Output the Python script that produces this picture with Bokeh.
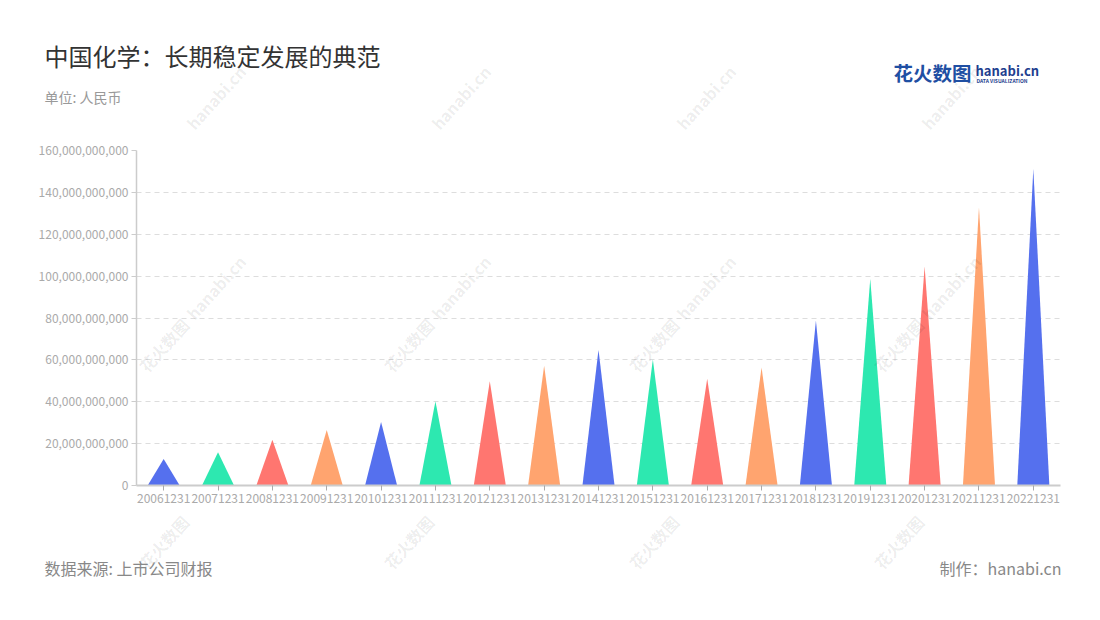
import math
from bokeh.plotting import figure
from bokeh.layouts import column
from bokeh.models import (Range1d, FixedTicker, NumeralTickFormatter, Label,
                          ColumnDataSource)
from bokeh.embed import file_html
from bokeh.resources import INLINE

# ---- data ----
periods = ["20061231", "20071231", "20081231", "20091231", "20101231", "20111231",
           "20121231", "20131231", "20141231", "20151231", "20161231", "20171231",
           "20181231", "20191231", "20201231", "20211231", "20221231"]
revenue = [12.7e9, 15.9e9, 21.8e9, 26.5e9, 30.3e9, 40.2e9,
           49.8e9, 57.2e9, 64.8e9, 60.2e9, 51.0e9, 56.3e9,
           78.8e9, 98.7e9, 104.6e9, 132.9e9, 151.2e9]
y_ticks = [0, 20e9, 40e9, 60e9, 80e9, 100e9, 120e9, 140e9, 160e9]

title_text = "中国化学：长期稳定发展的典范"
subtitle_text = "单位: 人民币"
source_text = "数据来源: 上市公司财报"
credit_text = "制作：hanabi.cn"
wm_parts = [("花火数图", 64, -40), ("hanabi.cn", 72, 38)]  # text, approx length, offset along axis

palette = ["#5570ee", "#2de8b0", "#ff7670", "#ffa46f"]
FONT = "Noto Sans CJK SC"
W = 1084
HEAD_H, MAIN_H, FOOT_H = 142, 366, 92

n = len(periods)
half_w = 0.295
xs, ys, cols = [], [], []
for i, v in enumerate(revenue):
    c = i + 0.5
    xs.append([c - half_w, c, c + half_w])
    ys.append([0, v, 0])
    cols.append(palette[i % len(palette)])
src = ColumnDataSource(dict(xs=xs, ys=ys, color=cols))


def blank(h):
    f = figure(width=W, height=h, output_backend="svg", toolbar_location=None,
               x_axis_type=None, y_axis_type=None,
               x_range=Range1d(0, W), y_range=Range1d(0, h),
               min_border=0, min_border_left=0, min_border_right=0,
               min_border_top=0, min_border_bottom=0, frame_align=False)
    f.outline_line_color = None
    f.grid.grid_line_color = None
    return f


ANG = math.radians(48)
CA, SA = math.cos(ANG), math.sin(ANG)
WM_CENTERS = [(190 + 245 * i, cy) for cy in (125, 315, 512) for i in range(4)]


def add_watermarks(f, fx0, fy0, fx1, fy1):
    """Place watermark pieces (page coords) that fit fully in frame [fx0,fx1]x[fy0,fy1]."""
    for (cx, cy) in WM_CENTERS:
        for text, L, off in wm_parts:
            px = cx + off * CA
            py = cy - off * SA
            hx = (L * CA + 12 * SA) / 2
            hy = (L * SA + 12 * CA) / 2
            if px - hx < fx0 or px + hx > fx1 or py - hy < fy0 or py + hy > fy1:
                continue
            f.add_layout(Label(x=px - fx0, y=fy1 - py, x_units="screen", y_units="screen",
                               text=text, text_font=FONT, text_font_style="bold",
                               text_font_size="16px", text_color="#000000", text_alpha=0.08,
                               angle=ANG, text_align="center", text_baseline="middle"))


def lab(f, text, X, Y, top, size, color, align="left", style="normal"):
    h = f.height
    f.add_layout(Label(x=X, y=h - (Y - top), x_units="screen", y_units="screen",
                       text=text, text_font=FONT, text_font_size=size,
                       text_color=color, text_align=align, text_baseline="middle",
                       text_font_style=style))


# ---- header ----
head = blank(HEAD_H)
add_watermarks(head, 0, 0, W, HEAD_H)
lab(head, title_text, 44, 55, 0, "24px", "#333333")
lab(head, subtitle_text, 44, 96, 0, "14px", "#999999")
lab(head, "花火数图", 893, 72, 0, "19.5px", "#1f4fa3", style="bold")
lab(head, "hanabi.cn", 975, 70, 0, "13px", "#1f3f8f", style="bold")
lab(head, "DATA VISUALIZATION", 976, 80, 0, "5px", "#1f3f8f", style="bold")

# ---- main chart ----
p = figure(width=W, height=MAIN_H, output_backend="svg", toolbar_location=None,
           x_range=Range1d(0, n), y_range=Range1d(0, 160e9),
           min_border_left=136, min_border_right=W - 1060, min_border_top=150 - HEAD_H,
           min_border_bottom=HEAD_H + MAIN_H - 485, frame_align=False)
p.outline_line_color = None
p.background_fill_color = "white"
p.border_fill_color = "white"

p.patches("xs", "ys", source=src, fill_color="color", line_color=None)

p.xaxis.ticker = FixedTicker(ticks=[i + 0.5 for i in range(n)])
p.xaxis.major_label_overrides = {i + 0.5: lab_ for i, lab_ in enumerate(periods)}
p.xaxis.axis_line_color = "#cccccc"
p.xaxis.axis_line_width = 2
p.xaxis.major_tick_line_color = "#aaaaaa"
p.xaxis.major_tick_out = 5
p.xaxis.major_tick_in = 0
p.xaxis.minor_tick_line_color = None
p.xaxis.major_label_text_font = FONT
p.xaxis.major_label_text_font_size = "12px"
p.xaxis.major_label_text_color = "#aaaaaa"
p.xaxis.major_label_standoff = 3

p.yaxis.ticker = FixedTicker(ticks=y_ticks)
p.yaxis.formatter = NumeralTickFormatter(format="0,0")
p.yaxis.axis_line_color = "#cccccc"
p.yaxis.axis_line_width = 1.5
p.yaxis.major_tick_line_color = "#cccccc"
p.yaxis.major_tick_out = 5
p.yaxis.major_tick_in = 0
p.yaxis.minor_tick_line_color = None
p.yaxis.major_label_text_font = FONT
p.yaxis.major_label_text_font_size = "12px"
p.yaxis.major_label_text_color = "#aaaaaa"
p.yaxis.major_label_standoff = 3

p.xgrid.grid_line_color = None
p.ygrid.ticker = FixedTicker(ticks=y_ticks)
p.ygrid.grid_line_color = "#dddddd"
p.ygrid.grid_line_dash = "5 4"
p.ygrid.grid_line_width = 1

# frame on page: x 136..1060, y 150..485
add_watermarks(p, 136, 150, 1060, 485)

# ---- footer ----
foot = blank(FOOT_H)
FT = HEAD_H + MAIN_H
add_watermarks(foot, 0, FT, W, FT + FOOT_H)
lab(foot, source_text, 44, 567, FT, "16px", "#888888")
lab(foot, credit_text, 1061, 567, FT, "16px", "#888888", align="right")

layout = column(head, p, foot, spacing=0)
open("out.html", "w").write(file_html(layout, INLINE))
